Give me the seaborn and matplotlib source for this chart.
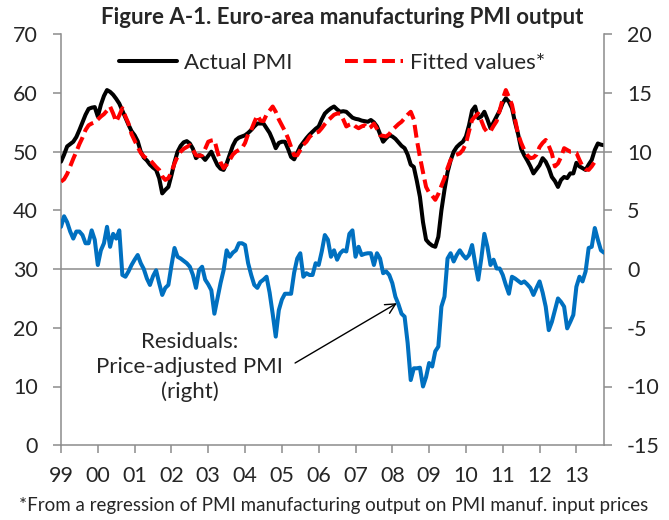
import matplotlib
matplotlib.use("Agg")
import matplotlib.pyplot as plt
import seaborn as sns
import numpy as np
import pandas as pd

# ---------------- data (monthly, Jan 1999 onwards) ----------------
year_labels = ["99", "00", "01", "02", "03", "04", "05", "06", "07", "08", "09", "10", "11", "12", "13"]

actual_pmi = [
    48.3, 49.5, 50.9, 51.3, 51.7, 52.5, 53.7, 55.0, 56.3, 57.3, 57.5, 57.6,
    56.0, 58.0, 59.5, 60.5, 60.2, 59.7, 59.0, 58.2, 57.0, 55.8, 54.6, 53.5,
    52.8, 51.8, 50.0, 49.0, 48.5, 47.8, 47.3, 46.9, 45.5, 42.9, 43.5, 44.0,
    46.0, 48.2, 50.0, 51.0, 51.6, 51.8, 51.4, 50.5, 48.9, 49.4, 49.2, 48.6,
    49.3, 50.0, 48.8, 47.7, 47.1, 46.9, 48.0, 49.5, 51.0, 52.0, 52.4, 52.6,
    52.8, 53.2, 53.7, 54.3, 54.8, 54.8, 54.8, 54.0, 53.2, 52.0, 50.6, 51.5,
    51.7, 51.7, 50.5, 49.1, 48.7, 49.8, 50.9, 51.6, 52.3, 52.9, 53.4, 53.9,
    54.3, 55.5, 56.5, 57.0, 57.4, 57.7, 57.2, 56.8, 56.9, 56.8, 56.3, 55.8,
    55.6, 55.5, 55.3, 55.2, 55.1, 55.4, 55.0, 54.3, 53.0, 51.7, 52.3, 52.8,
    52.6, 52.2, 51.6, 51.0, 50.6, 49.5, 47.8, 47.4, 45.0, 42.3, 38.0, 35.0,
    34.4, 34.0, 33.8, 35.5, 40.0, 43.5, 46.5, 48.5, 50.0, 50.8, 51.3, 51.7,
    52.6, 54.5, 57.0, 57.7, 55.7, 56.0, 56.8, 55.5, 54.0, 55.0, 56.0, 57.0,
    58.3, 59.1, 58.5, 57.4, 55.0, 53.0, 50.5, 49.4, 48.5, 47.5, 46.3, 47.0,
    47.7, 48.9, 48.3, 47.2, 45.7, 45.0, 44.0, 45.2, 45.7, 45.5, 46.3, 46.3,
    48.1, 47.5, 47.2, 46.9, 47.8, 48.6, 50.3, 51.4, 51.2, 51.1,
]

fitted_values = [
    44.9, 45.3, 46.2, 47.5, 48.8, 50.0, 51.3, 52.4, 53.7, 54.5, 54.8, 55.0,
    55.5, 56.0, 56.4, 57.0, 57.7, 56.5, 55.1, 56.2, 57.4, 56.0, 54.8, 53.0,
    51.9, 50.8, 49.8, 49.2, 48.8, 48.6, 48.0, 47.4, 46.9, 45.8, 45.2, 45.5,
    46.5, 48.0, 49.2, 50.0, 50.5, 50.8, 51.1, 50.3, 49.4, 49.3, 49.4, 50.5,
    51.7, 51.9, 52.0, 50.0, 48.2, 47.2, 47.8, 48.6, 49.5, 50.0, 50.3, 50.6,
    51.5, 53.0, 53.7, 55.0, 56.2, 55.3, 55.2, 56.3, 57.0, 57.7, 56.8, 55.5,
    54.5, 53.5, 52.3, 50.8, 49.4, 49.4, 50.3, 51.2, 51.7, 52.5, 53.0, 53.2,
    53.4, 54.0, 54.7, 55.3, 55.8, 56.3, 56.5, 56.5, 55.5, 54.3, 54.6, 54.8,
    54.3, 54.0, 54.3, 54.5, 53.9, 54.2, 54.8, 53.9, 52.8, 52.7, 52.6, 53.0,
    53.7, 54.2, 54.7, 55.1, 55.7, 56.3, 56.8, 55.5, 52.0, 49.1, 46.5, 44.0,
    43.0, 42.5, 41.8, 42.8, 44.2, 45.5, 47.2, 48.6, 49.3, 49.5, 49.7, 50.3,
    51.4, 53.5, 55.4, 56.0, 56.5, 55.3, 54.0, 53.3, 53.5, 54.4, 55.2, 57.0,
    59.0, 60.5, 59.3, 58.0, 55.5, 53.0, 51.5, 50.3, 49.4, 48.9, 49.0, 49.5,
    50.8, 51.5, 52.0, 51.0, 49.7, 47.5, 48.0, 49.1, 50.6, 50.3, 50.0, 50.0,
    49.8, 48.6, 47.5, 47.0, 46.9, 47.5, 48.3, 48.7,
]

residuals = [
    3.6, 4.5, 4.0, 3.2, 2.6, 3.2, 3.2, 2.9, 2.2, 2.2, 3.3, 2.5,
    0.35, 1.6, 2.2, 3.6, 1.9, 3.0, 2.6, 3.3, -0.5, -0.65, -0.2, 0.35,
    0.8, 1.2, 0.5, 0.0, -0.8, -1.35, -0.6, -0.1, -1.2, -2.2, -1.6, -1.35,
    0.3, 1.8, 1.05, 0.9, 0.7, 0.5, 0.2, -0.5, -1.6, -0.1, 0.2, -0.9,
    -1.3, -1.8, -3.8, -2.5, -1.2, -0.1, 1.6, 1.05, 1.4, 1.6, 2.2, 2.2,
    2.05, 0.5, -0.5, -1.35, -1.6, -1.1, -0.9, -0.65, -2.0, -3.8, -5.75, -3.5,
    -2.6, -2.1, -2.1, -2.1, -0.3, 0.9, 1.35, -0.65, -0.35, -0.5, -0.5, 0.5,
    0.35, 1.5, 2.9, 2.5, 1.05, 1.6, 0.8, 1.35, 1.6, 1.5, 3.0, 3.3,
    1.05, 1.9, 1.2, 1.3, 1.35, 1.35, 0.35, 1.35, 0.9, -0.35, -0.2, -0.5,
    -1.2, -2.35, -3.0, -3.8, -4.05, -6.3, -9.45, -8.45, -8.45, -8.4, -10.0, -9.2,
    -8.0, -8.3, -7.0, -6.6, -3.2, -2.35, 0.9, 1.35, 0.65, 1.2, 1.6, 1.2,
    0.9, 1.2, 2.05, 0.5, -0.9, 0.9, 3.0, 1.9, 0.35, 0.8, 0.05, 0.05,
    -0.5, -1.35, -2.1, -0.65, -0.8, -1.0, -1.2, -1.05, -1.3, -1.6, -2.2, -1.6,
    -1.05, -2.0, -3.2, -5.2, -4.5, -3.5, -2.5, -2.8, -3.2, -5.05, -4.5, -3.9,
    -1.5, -0.65, -1.05, -0.2, 1.8, 1.9, 3.5, 2.5, 1.6, 1.4,
]

left_ticks = [0, 10, 20, 30, 40, 50, 60, 70]
right_ticks = [-15, -10, -5, 0, 5, 10, 15, 20]

# ---------------- tidy frames ----------------
df_a = pd.DataFrame({"month": np.arange(len(actual_pmi)), "value": actual_pmi})
df_f = pd.DataFrame({"month": np.arange(len(fitted_values)), "value": fitted_values})
df_r = pd.DataFrame({"month": np.arange(len(residuals)), "value": residuals})

# ---------------- style ----------------
sns.set_style("white")
plt.rcParams["font.family"] = ["Lato", "DejaVu Sans"]
GRAY = "#8c8c8c"
BLACK = "#000000"
RED = "#ff0000"
BLUE = "#0070c0"

W, H = 669, 520
fig = plt.figure(figsize=(W / 100, H / 100), dpi=100)
ax = fig.add_axes([61 / W, 1 - 445.2 / H, (604 - 61) / W, (445.2 - 34.3) / H])
ax2 = ax.twinx()

# reference lines
ax.axhline(50, color=GRAY, lw=1.1, zorder=1)
ax.axhline(30, color=GRAY, lw=1.1, zorder=1)

sns.lineplot(data=df_a, x="month", y="value", ax=ax, color=BLACK, lw=2.9,
             label="Actual PMI", legend=False, zorder=3)
sns.lineplot(data=df_f, x="month", y="value", ax=ax, color=RED, lw=2.9,
             label="Fitted values*", legend=False, zorder=4)
ax.lines[-1].set_dashes((3.2, 1.4))
sns.lineplot(data=df_r, x="month", y="value", ax=ax2, color=BLUE, lw=2.9,
             legend=False, zorder=3)

n = len(actual_pmi)
ax.set_xlim(0, n - 1)
ax.set_ylim(0, 70)
ax2.set_ylim(-15, 20)
ax.set_xticks([12 * i for i in range(len(year_labels))])
ax.set_xticklabels(year_labels)
ax.set_yticks(left_ticks)
ax.set_yticklabels([str(t) for t in left_ticks])
ax2.set_yticks(right_ticks)
ax2.set_yticklabels([str(t) for t in right_ticks])
ax.set_xlabel("")
ax.set_ylabel("")
ax2.set_ylabel("")

for a in (ax, ax2):
    for s in a.spines.values():
        s.set_color(GRAY)
        s.set_linewidth(1.1)
    a.spines["top"].set_visible(False)
ax.spines["right"].set_visible(False)
ax2.spines["left"].set_visible(False)
ax2.spines["bottom"].set_visible(False)

ax.tick_params(axis="x", direction="out", length=6, width=1.1, color=GRAY,
               labelsize=15.5, pad=9, bottom=True)
ax.tick_params(axis="y", direction="out", length=5.5, width=1.1, color=GRAY,
               labelsize=15.5, pad=11, left=True)
ax2.tick_params(axis="y", direction="out", length=5.5, width=1.1, color=GRAY,
                labelsize=15.5, pad=11, right=True)

# legend
handles = ax.lines[-2:]
ax.legend(handles, ["Actual PMI", "Fitted values*"], loc="center",
          bbox_to_anchor=(332 / W, 1 - 63 / H), bbox_transform=fig.transFigure,
          ncol=2, frameon=False, fontsize=16, handlelength=2.6,
          handletextpad=0.3, columnspacing=2.4)

# annotation
ax.text(42.0, 13.3, "Residuals:\nPrice-adjusted PMI\n(right)", ha="center",
        va="center", fontsize=16, linespacing=1.3, zorder=5)
ax.annotate("", xy=(109.5, 24.2), xytext=(76.3, 14.0),
            arrowprops=dict(arrowstyle="->", color="black", lw=1.0,
                            mutation_scale=18, shrinkA=0, shrinkB=0), zorder=5)

fig.text(342 / W, 1 - 18 / H, "Figure A-1. Euro-area manufacturing PMI output",
         ha="center", va="center", fontsize=16, fontweight="bold")
fig.text(334 / W, 1 - 505 / H,
         "*From a regression of PMI manufacturing output on PMI manuf. input prices",
         ha="center", va="center", fontsize=13.5)

fig.savefig("out.png", dpi=100)
